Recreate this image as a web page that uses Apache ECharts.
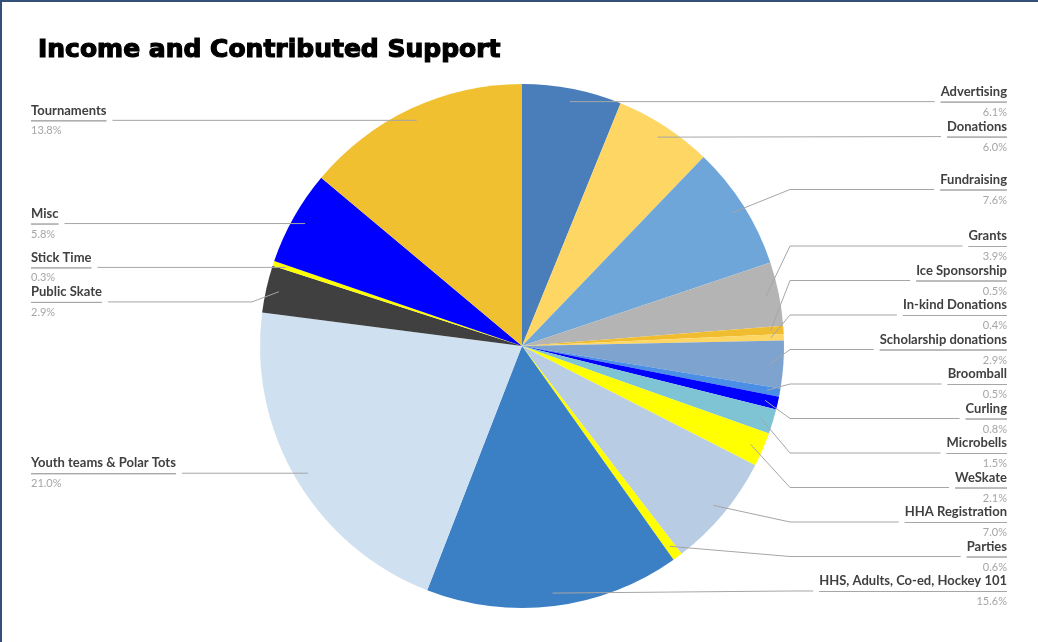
<!DOCTYPE html>
<html>
<head>
<meta charset="utf-8">
<script src="https://cdn.jsdelivr.net/npm/echarts@6/dist/echarts.min.js"></script>
<style>
  html, body { margin: 0; padding: 0; background: #fff; }
  #frame { position: absolute; left: 0; top: 0; width: 1036px; height: 640px; border-top: 2px solid #34507a; border-left: 2px solid #34507a; }
  #chart { width: 1038px; height: 642px; }
</style>
</head>
<body>
<div id="chart"></div>
<div id="frame"></div>
<script>
// categories, clockwise from 12 o'clock
const categories = [
  'Advertising', 'Donations', 'Fundraising', 'Grants', 'Ice Sponsorship',
  'In-kind Donations', 'Scholarship donations', 'Broomball', 'Curling',
  'Microbells', 'WeSkate', 'HHA Registration', 'Parties',
  'HHS, Adults, Co-ed, Hockey 101', 'Youth teams & Polar Tots',
  'Public Skate', 'Stick Time', 'Misc', 'Tournaments'
]
// share in percent
const values = [6.1, 6.0, 7.6, 3.9, 0.5, 0.4, 2.9, 0.5, 0.8, 1.5, 2.1, 7.0, 0.6, 15.6, 21.0, 2.9, 0.3, 5.8, 13.8]
const sliceColors = [
  '#4a7ebb', '#fdd663', '#6ea6da', '#b4b4b4', '#f0bd30',
  '#fdd663', '#7ea3cf', '#4a8ee6', '#0000ff',
  '#7ec4d4', '#ffff00', '#b8cce4', '#ffff00',
  '#3b7fc4', '#cfe0f1', '#404040', '#ffff00', '#0000ff', '#f0c030'
]

const CX = 522
const CY = 346
const R = 262

const chart = echarts.init(document.getElementById('chart'))

// slices
const pieData = categories.map((name, i) => ({
  name: name,
  value: values[i],
  itemStyle: { color: sliceColors[i] }
}))
// same data, invisible, only used to hang the labels from a point inside each slice
const labelData = categories.map((name, i) => ({
  name: name,
  value: values[i],
  itemStyle: { color: 'rgba(0,0,0,0)' }
}))

const option = {
  animation: false,
  title: {
    text: 'Income and Contributed Support',
    left: 33,
    top: 33,
    textStyle: {
      fontFamily: 'DejaVu Sans',
      fontWeight: 900,
      fontSize: 25,
      color: '#000',
      textBorderColor: '#000',
      textBorderWidth: 1.2
    }
  },
  series: [
    {
      type: 'pie',
      center: [CX, CY],
      radius: R,
      startAngle: 90,
      clockwise: true,
      silent: true,
      data: pieData,
      label: { show: false },
      labelLine: { show: false }
    },
    {
      type: 'pie',
      left: 0,
      top: 0,
      right: 0,
      bottom: 34,
      center: [CX, CY],
      radius: R - 13,
      startAngle: 90,
      clockwise: true,
      silent: true,
      z: 3,
      avoidLabelOverlap: true,
      data: labelData,
      label: {
        show: true,
        position: 'outer',
        alignTo: 'edge',
        edgeDistance: 31,
        formatter: p => '{name|' + p.name + '}\n{hr|}\n{pct|' + p.value.toFixed(1) + '%}',
        rich: {
          name: { fontFamily: 'Lato', fontSize: 13, fontWeight: 'bold', color: '#404040', lineHeight: 21 },
          hr: { borderColor: '#a6a6a6', width: '100%', borderWidth: 1, height: 0 },
          pct: { fontFamily: 'Lato', fontSize: 11, color: '#a6a6a6', lineHeight: 20 }
        }
      },
      labelLine: {
        show: true,
        length: 0,
        length2: 10,
        lineStyle: { color: '#a6a6a6', width: 1 }
      },
      // bend the leader lines just outside the pie, like the spreadsheet does
      labelLayout: params => {
        const pts = params.labelLinePoints
        if (!pts) return {}
        const start = pts[0]
        const end = pts[pts.length - 1]
        const right = start[0] > CX
        const bendX = right ? Math.max(start[0], CX + R + 6) : Math.min(start[0], CX - R - 8)
        if (Math.abs(end[1] - start[1]) < 2) {
          return { labelLinePoints: [start, end] }
        }
        return { labelLinePoints: [start, [bendX, end[1]], end] }
      }
    }
  ]
}
chart.setOption(option)
</script>
</body>
</html>
